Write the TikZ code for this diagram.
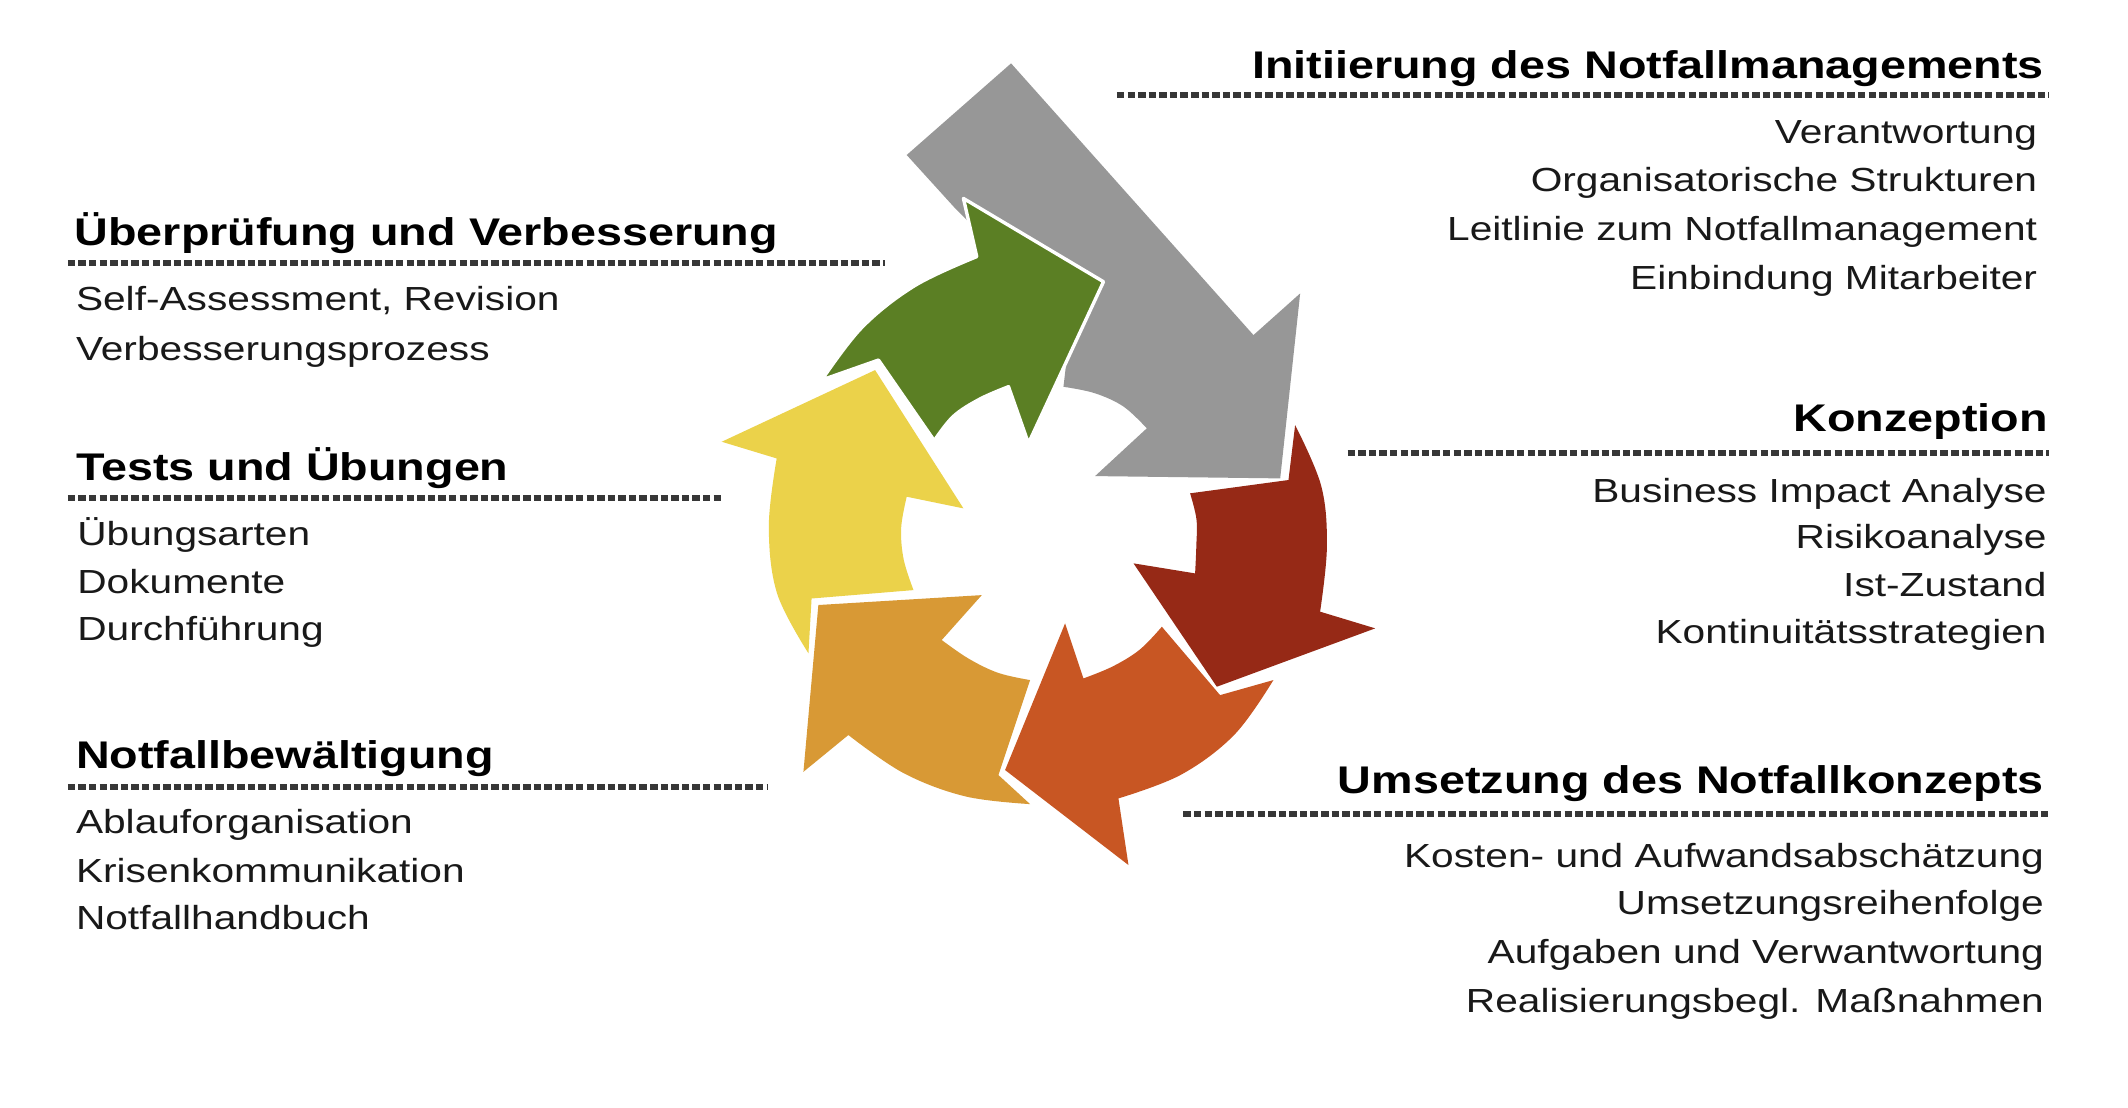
\documentclass[tikz,border=0pt]{standalone}
\usepackage{fontspec}
\setmainfont{Liberation Sans}
\usepackage{graphicx}
\definecolor{cgray}{RGB}{151,151,151}
\definecolor{cgreen}{RGB}{91,127,36}
\definecolor{cyellow}{RGB}{235,210,74}
\definecolor{camber}{RGB}{216,153,53}
\definecolor{corange}{RGB}{200,86,35}
\definecolor{cred}{RGB}{150,41,22}
\definecolor{ctext}{RGB}{25,25,25}
\definecolor{cdot}{RGB}{55,55,55}
\newcommand{\hdtxt}[1]{\scalebox{1.212}[1]{\fontsize{28.4}{34}\selectfont\bfseries #1}}
\newcommand{\ittxt}[1]{\scalebox{1.218}[1]{\fontsize{24.6}{30}\selectfont #1}}
\begin{document}
\begin{tikzpicture}[x=1pt,y=-1pt,
  hd/.style={inner sep=0pt, outer sep=0pt, text=black},
  itm/.style={inner sep=0pt, outer sep=0pt, text=ctext},
  dotline/.style={draw=cdot, line width=4.5, dash pattern=on 5.5 off 2.3},
  arw/.style={line join=round}]
\fill[white] (0,0) rectangle (1568,816);
\useasboundingbox (0,0) rectangle (1568,816);

% ---- cycle of arrows ----
\fill[cgray] (745,46.7) -- (923.6,246.9) -- (958,216.2) -- (943.3,352.5) -- (806.9,350.8) -- (845,315.6)
  -- plot[smooth,tension=0.6] coordinates {(845,315.6) (827.9,299.6) (806.6,289.7) (783.6,285)}
  -- (790,230) -- (740,190) -- (703.8,153.5) -- (668.1,114.2) -- cycle;

\filldraw[cgreen, draw=white, line width=2.5, arw] (605.5,280) -- (647.3,265.3) -- (688.4,324.7)
  -- plot[smooth,tension=0.6] coordinates {(688.4,324.7) (702.5,306.8) (721.9,294.1) (743.1,284.9)}
  -- (757.8,326.7) -- (813.1,207.6) -- (709.9,146.2) -- (719.7,189.1)
  -- plot[smooth,tension=0.6] coordinates {(719.7,189.1) (674.1,210.4) (635.2,241.1) (605.5,280)} -- cycle;

\fill[cyellow, arw] (595.7,481.4) -- (598,441) -- (673.1,434.8)
  -- plot[smooth,tension=0.6] coordinates {(673.1,434.8) (665.9,412.4) (664.0,389.0) (668.1,366)}
  -- (709.9,374.6) -- (644.8,272.7) -- (531.8,325.5) -- (572.3,337.8)
  -- plot[smooth,tension=0.6] coordinates {(572.3,337.8) (566.5,387.7) (572.6,437.3) (595.7,481.4)} -- cycle;

\fill[camber, arw] (759,592.5) -- (735.7,571.1) -- (759,501.1)
  -- plot[smooth,tension=0.6] coordinates {(759,501.1) (735.5,495.8) (713.7,485.3) (693.9,471.6)}
  -- (723.4,438.5) -- (603,445.8) -- (592,568.7) -- (625.1,541.6)
  -- plot[smooth,tension=0.6] coordinates {(625.1,541.6) (665.7,569.6) (711.3,586.8) (759,592.5)} -- cycle;

\fill[corange, arw] (938.3,501.1) -- (899,512.2) -- (856.1,461.8)
  -- plot[smooth,tension=0.6] coordinates {(856.1,461.8) (839.9,478.6) (820.0,491.0) (798.3,499.9)}
  -- (784.8,459.3) -- (740.6,567.4) -- (831.5,637.4) -- (824.1,588.3)
  -- plot[smooth,tension=0.6] coordinates {(824.1,588.3) (870.3,570.8) (909.7,541.2) (938.3,501.1)} -- cycle;

\fill[cred, arw] (954.3,313.2) -- (949.4,353.7) -- (876.9,363.5)
  -- plot[smooth,tension=0.6] coordinates {(876.9,363.5) (881.6,382.6) (881.5,402.4) (880.6,422.5)}
  -- (835.2,415.1) -- (896.6,506) -- (1013.3,463) -- (972.7,450.7)
  -- plot[smooth,tension=0.6] coordinates {(972.7,450.7) (977.7,403.1) (973.5,358) (954.3,313.2)} -- cycle;

% ---- right column ----
\node[hd, anchor=base east] (r1h) at (1506,58) {\hdtxt{Initiierung des Notfallmanagements}};
\coordinate (r1s) at (823,70); \coordinate (r1e) at (1510,70);
\draw[dotline] (r1s) -- (r1e);
\node[itm, anchor=base east] (r1a) at (1501,106) {\ittxt{Verantwortung}};
\node[itm, anchor=base east] (r1b) at (1501,141) {\ittxt{Organisatorische Strukturen}};
\node[itm, anchor=base east] (r1c) at (1501,177) {\ittxt{Leitlinie zum Notfallmanagement}};
\node[itm, anchor=base east] (r1d) at (1501,213) {\ittxt{Einbindung Mitarbeiter}};

\node[hd, anchor=base east] (r2h) at (1509,318) {\hdtxt{Konzeption}};
\coordinate (r2s) at (993,334); \coordinate (r2e) at (1510,334);
\draw[dotline] (r2s) -- (r2e);
\node[itm, anchor=base east] (r2a) at (1508,370) {\ittxt{Business Impact Analyse}};
\node[itm, anchor=base east] (r2b) at (1508,404.5) {\ittxt{Risikoanalyse}};
\node[itm, anchor=base east] (r2c) at (1508,439.5) {\ittxt{Ist-Zustand}};
\node[itm, anchor=base east] (r2d) at (1508,474) {\ittxt{Kontinuitätsstrategien}};

\node[hd, anchor=base east] (r3h) at (1506,585) {\hdtxt{Umsetzung des Notfallkonzepts}};
\coordinate (r3s) at (872,600); \coordinate (r3e) at (1510,600);
\draw[dotline] (r3s) -- (r3e);
\node[itm, anchor=base east] (r3a) at (1506,639) {\ittxt{Kosten- und Aufwandsabschätzung}};
\node[itm, anchor=base east] (r3b) at (1506,674) {\ittxt{Umsetzungsreihenfolge}};
\node[itm, anchor=base east] (r3c) at (1506,710) {\ittxt{Aufgaben und Verwantwortung}};
\node[itm, anchor=base east] (r3d) at (1506,746) {\ittxt{Realisierungsbegl. Maßnahmen}};

% ---- left column ----
\node[hd, anchor=base west] (l1h) at (55,181) {\hdtxt{Überprüfung und Verbesserung}};
\coordinate (l1s) at (50,194); \coordinate (l1e) at (652,194);
\draw[dotline] (l1s) -- (l1e);
\node[itm, anchor=base west] (l1a) at (56,229) {\ittxt{Self-Assessment, Revision}};
\node[itm, anchor=base west] (l1b) at (56,265.5) {\ittxt{Verbesserungsprozess}};

\node[hd, anchor=base west] (l2h) at (56,354) {\hdtxt{Tests und Übungen}};
\coordinate (l2s) at (50,367); \coordinate (l2e) at (533,367);
\draw[dotline] (l2s) -- (l2e);
\node[itm, anchor=base west] (l2a) at (57,402) {\ittxt{Übungsarten}};
\node[itm, anchor=base west] (l2b) at (57,437) {\ittxt{Dokumente}};
\node[itm, anchor=base west] (l2c) at (57,472) {\ittxt{Durchführung}};

\node[hd, anchor=base west] (l3h) at (56,566) {\hdtxt{Notfallbewältigung}};
\coordinate (l3s) at (50,580); \coordinate (l3e) at (565,580);
\draw[dotline] (l3s) -- (l3e);
\node[itm, anchor=base west] (l3a) at (56,614) {\ittxt{Ablauforganisation}};
\node[itm, anchor=base west] (l3b) at (56,650) {\ittxt{Krisenkommunikation}};
\node[itm, anchor=base west] (l3c) at (56,685) {\ittxt{Notfallhandbuch}};
\end{tikzpicture}
\end{document}
